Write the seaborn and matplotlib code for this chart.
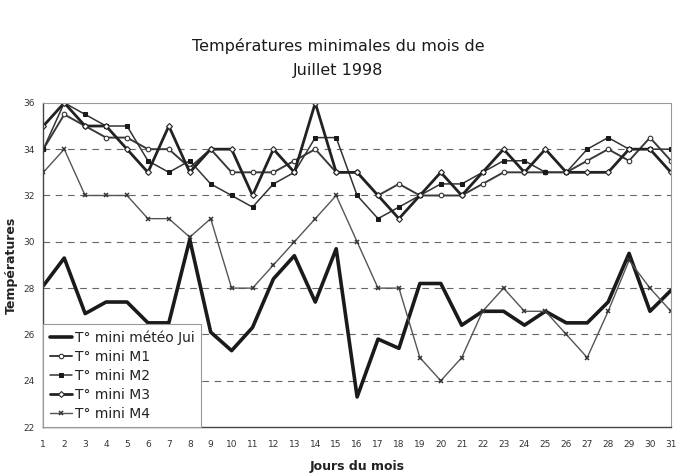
import matplotlib
matplotlib.use("Agg")
import matplotlib.pyplot as plt
import seaborn as sns

# Daily minimum temperatures, July 1998
days = list(range(1, 32))
meteo = [28.1, 29.3, 26.9, 27.4, 27.4, 26.5, 26.5, 30.1, 26.1, 25.3, 26.3, 28.4, 29.4, 27.4, 29.7, 23.3,
         25.8, 25.4, 28.2, 28.2, 26.4, 27.0, 27.0, 26.4, 27.0, 26.5, 26.5, 27.4, 29.5, 27.0, 27.9]
m1 = [34, 35.5, 35, 34.5, 34.5, 34, 34, 33.2, 34, 33, 33, 33, 33.5, 34, 33, 33,
      32, 32.5, 32, 32, 32, 32.5, 33, 33, 33, 33, 33.5, 34, 33.5, 34.5, 33.5]
m2 = [34, 36, 35.5, 35, 35, 33.5, 33, 33.5, 32.5, 32, 31.5, 32.5, 33, 34.5, 34.5, 32,
      31, 31.5, 32, 32.5, 32.5, 33, 33.5, 33.5, 33, 33, 34, 34.5, 34, 34, 34]
m3 = [35, 36, 35, 35, 34, 33, 35, 33, 34, 34, 32, 34, 33, 36, 33, 33,
      32, 31, 32, 33, 32, 33, 34, 33, 34, 33, 33, 33, 34, 34, 33]
m4 = [33, 34, 32, 32, 32, 31, 31, 30.2, 31, 28, 28, 29, 30, 31, 32, 30,
      28, 28, 25, 24, 25, 27, 28, 27, 27, 26, 25, 27, 29.2, 28, 27]

labels = ["T° mini météo Jui", "T° mini M1", "T° mini M2", "T° mini M3", "T° mini M4"]
y_ticks = list(range(22, 37, 2))

sns.set_style("white")
plt.rcParams["font.family"] = ["DejaVu Sans"]

fig = plt.figure(figsize=(6.77, 4.74), dpi=100)
ax = fig.add_axes([0.064, 0.099, 0.927, 0.684])

series = [
    (meteo, labels[0], dict(color="#1a1a1a", linewidth=2.6, marker=None)),
    (m1, labels[1], dict(color="#3a3a3a", linewidth=1.4, marker="o", markersize=3.3,
                         markerfacecolor="white", markeredgecolor="#333333", markeredgewidth=0.8)),
    (m2, labels[2], dict(color="#333333", linewidth=1.1, marker="s", markersize=3.2,
                         markerfacecolor="#1a1a1a", markeredgecolor="#1a1a1a")),
    (m3, labels[3], dict(color="#222222", linewidth=2.0, marker="D", markersize=3.0,
                         markerfacecolor="white", markeredgecolor="#222222", markeredgewidth=0.8)),
    (m4, labels[4], dict(color="#555555", linewidth=1.0, marker="x", markersize=3.5,
                         markeredgewidth=1.1, markeredgecolor="#333333")),
]
for values, name, style in series:
    sns.lineplot(x=days, y=values, ax=ax, label=name, **style)

ax.set_xlim(1, 31)
ax.set_ylim(22, 36)
ax.set_xticks(days)
ax.set_yticks(y_ticks)
ax.tick_params(axis="x", labelsize=6.5, colors="#333333", length=0, pad=9)
ax.tick_params(axis="y", labelsize=6.5, colors="#333333", length=0, pad=6)

for v in y_ticks[1:-1]:
    ax.axhline(v, color="#666666", linewidth=0.8, linestyle=(0, (6, 5)), zorder=0)

for side in ["left", "bottom"]:
    ax.spines[side].set_color("#444444")
    ax.spines[side].set_linewidth(1.0)
for side in ["top", "right"]:
    ax.spines[side].set_color("#999999")
    ax.spines[side].set_linewidth(0.8)

ax.set_xlabel("Jours du mois", fontsize=9, fontweight="bold", color="#222222", labelpad=8)
ax.set_ylabel("Températures", fontsize=9, fontweight="bold", color="#222222", labelpad=4)

fig.text(0.5, 0.877, "Températures minimales du mois de\nJuillet 1998", ha="center", va="center",
         fontsize=11.5, color="#1a1a1a", linespacing=1.75)

leg = ax.legend(loc="lower left", bbox_to_anchor=(0.0, 0.0), fontsize=10, frameon=True,
                fancybox=False, handlelength=1.6, handletextpad=0.25, labelspacing=0.36,
                borderpad=0.45, borderaxespad=0.0)
leg.get_frame().set_edgecolor("#999999")
leg.get_frame().set_linewidth(0.8)
leg.get_frame().set_facecolor("white")
leg.get_frame().set_alpha(1.0)
for txt in leg.get_texts():
    txt.set_color("#222222")

fig.savefig("out.png", dpi=100, facecolor="white")
